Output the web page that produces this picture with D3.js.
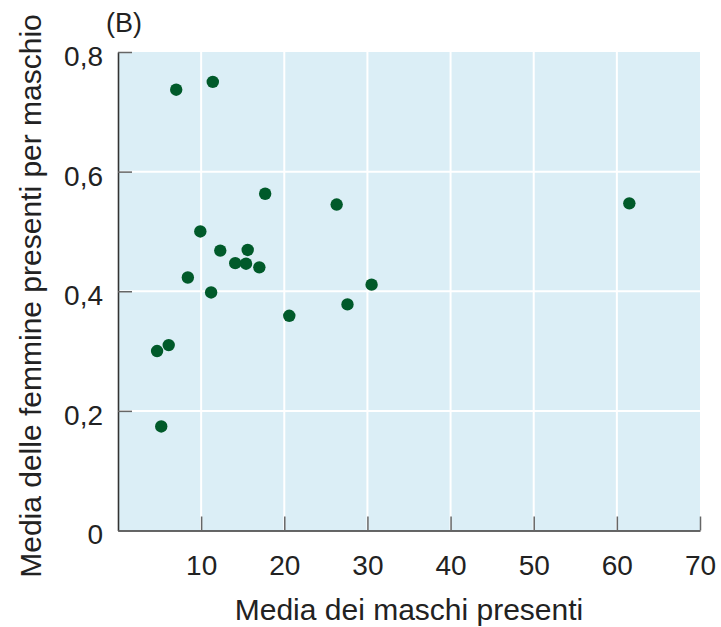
<!DOCTYPE html>
<html lang="it">
<head>
  <style>
    body { margin: 0; background: #fff; }
    text { font-family: "Liberation Sans", Arial, sans-serif; fill: #222; }
    .tick text { font-size: 28px; }
    .axis-label { font-size: 30px; }
  </style>
  <script src="https://d3js.org/d3.v7.min.js"></script>
</head>
<body>
  <script>
    // media dei maschi presenti (x) / media delle femmine per maschio (y)
    const maschi = [7.0, 11.4, 17.7, 9.9, 12.3, 15.6, 14.1, 15.4, 17.0, 8.4,
                    11.2, 4.7, 6.1, 5.2, 26.3, 30.5, 27.6, 20.6, 61.5];
    const femmine = [0.737, 0.750, 0.563, 0.500, 0.468, 0.469, 0.447, 0.446, 0.440, 0.423,
                     0.398, 0.300, 0.310, 0.174, 0.545, 0.411, 0.378, 0.359, 0.547];
    const xTicks = [10, 20, 30, 40, 50, 60, 70];
    const yTicks = [0, 0.2, 0.4, 0.6, 0.8];

    const margin = { top: 52, right: 21, bottom: 96.5, left: 118 };
    const W = 721, H = 627;
    const width = W - margin.left - margin.right;
    const height = H - margin.top - margin.bottom;

    const svg = d3.select("body").append("svg")
      .attr("width", W)
      .attr("height", H);

    const g = svg.append("g")
      .attr("transform", `translate(${margin.left},${margin.top})`);

    const x = d3.scaleLinear().domain([0, 70]).range([0, width]);
    const y = d3.scaleLinear().domain([0, 0.8]).range([height, 0]);

    g.append("rect")
      .attr("width", width)
      .attr("height", height)
      .attr("fill", "#dbeef6");

    // white grid
    g.selectAll(".vgrid").data(xTicks.slice(0, -1)).join("line")
      .attr("x1", d => x(d)).attr("x2", d => x(d))
      .attr("y1", 0).attr("y2", height)
      .attr("stroke", "#fff").attr("stroke-width", 2);
    g.selectAll(".hgrid").data(yTicks.slice(1, -1)).join("line")
      .attr("x1", 0).attr("x2", width)
      .attr("y1", d => y(d)).attr("y2", d => y(d))
      .attr("stroke", "#fff").attr("stroke-width", 2);

    const fmt = d => d === 0 ? "0" : d3.format(".1f")(d).replace(".", ",");

    const xAxis = g.append("g")
      .attr("transform", `translate(0,${height})`)
      .call(d3.axisBottom(x).tickValues(xTicks).tickSize(-14).tickSizeOuter(0).tickPadding(25));
    const yAxis = g.append("g")
      .call(d3.axisLeft(y).tickValues(yTicks).tickFormat(fmt).tickSize(-14).tickSizeOuter(0).tickPadding(15));
    yAxis.selectAll(".tick text").attr("dy", "0.48em");

    [xAxis, yAxis].forEach(a => {
      a.select(".domain").attr("stroke", "#333").attr("stroke-width", 1.6);
      a.selectAll(".tick line").attr("stroke", "#666").attr("stroke-width", 1.5);
      a.selectAll(".tick text").attr("fill", "#222");
    });

    g.selectAll(".dot").data(maschi).join("circle")
      .attr("cx", d => x(d))
      .attr("cy", (d, i) => y(femmine[i]))
      .attr("r", 6.2)
      .attr("fill", "#005a2a");

    svg.append("text")
      .attr("class", "axis-label")
      .attr("x", margin.left + x(35))
      .attr("y", 620)
      .attr("text-anchor", "middle")
      .text("Media dei maschi presenti");

    svg.append("text")
      .attr("class", "axis-label")
      .attr("transform", `translate(41,296) rotate(-90)`)
      .attr("text-anchor", "middle")
      .text("Media delle femmine presenti per maschio");

    svg.append("text")
      .attr("x", 106)
      .attr("y", 32)
      .style("font-size", "27px")
      .text("(B)");
  </script>
</body>
</html>
